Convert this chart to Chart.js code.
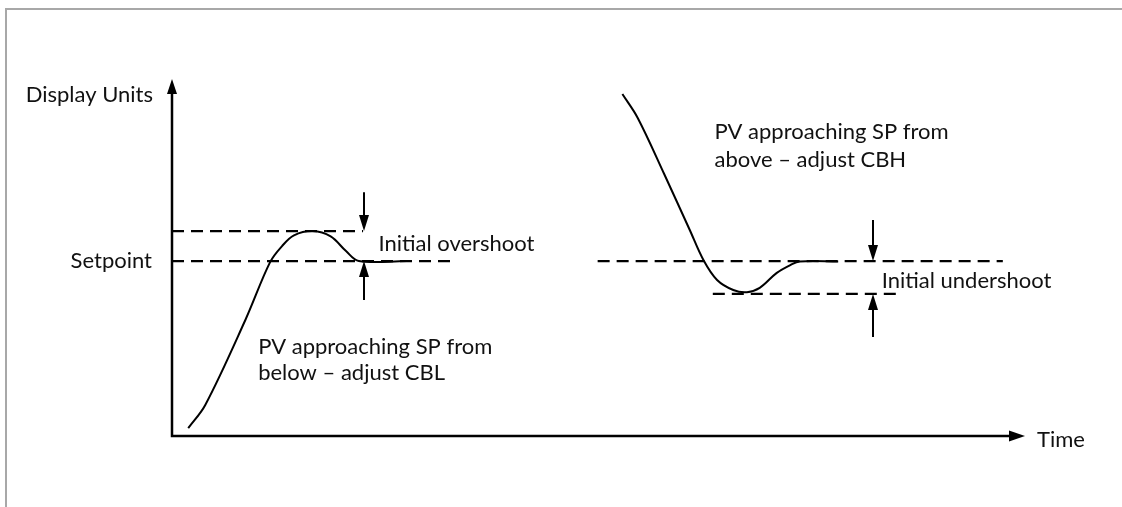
<!DOCTYPE html>
<html>
<head>
<meta charset="utf-8">
<script src="https://cdn.jsdelivr.net/npm/chart.js@4/dist/chart.umd.min.js"></script>
<style>
  html, body { margin: 0; padding: 0; background: #fff; }
  #wrap { position: relative; width: 1122px; height: 507px; overflow: hidden; }
  #frame { position: absolute; left: 5px; top: 8px; right: -4px; bottom: -4px;
           border-top: 2px solid #a8a8a8; border-left: 2px solid #a8a8a8; }
  canvas { position: absolute; left: 0; top: 0; }
</style>
</head>
<body>
<div id="wrap">
  <div id="frame"></div>
  <canvas id="c" width="1122" height="507"></canvas>
</div>
<script>
// Axis ranges (arbitrary time / display units)
const timeRange = [0, 100];
const unitRange = [0, 100];

// Control levels
const setpoint = 49.0;
const overshootLevel = 57.4;
const undershootLevel = 39.8;

// PV rising towards setpoint from below
const pvBelowTime  = [1.9, 3.9, 8.6, 11.5, 12.9, 14.3, 16.5, 18.6, 20.4, 21.9, 27.5];
const pvBelowValue = [2.2, 8.7, 32.5, 48.7, 53.2, 56.2, 57.4, 55.9, 51.8, 49.0, 49.0];

// PV falling towards setpoint from above
const pvAboveTime  = [52.8, 54.6, 57.7, 60.7, 62.3, 63.9, 65.8, 67.4, 68.9, 70.9, 72.5, 73.6, 78.1];
const pvAboveValue = [95.8, 89.1, 73.4, 57.7, 49.3, 43.7, 40.9, 40.3, 41.5, 45.7, 47.9, 48.9, 48.9];

// Reference (dashed) lines: [startTime, endTime]
const setpointLeftSpan   = [0, 32.6];
const overshootSpan      = [0, 22.4];
const setpointRightSpan  = [49.9, 97.4];
const undershootSpan     = [63.4, 85.0];

// Dimension arrows: time position, [from, to]
const overshootArrowTime = 22.5;
const overshootArrowTop = [68.3, overshootLevel];
const overshootArrowBottom = [38.1, setpoint];
const undershootArrowTime = 82.2;
const undershootArrowTop = [60.5, setpoint];
const undershootArrowBottom = [27.7, undershootLevel];

const toPoints = (xs, ys) => xs.map((x, i) => ({ x, y: ys[i] }));
const hLine = (span, level) => [{ x: span[0], y: level }, { x: span[1], y: level }];

const FONT = '22px Lato, "Open Sans", sans-serif';
const INK = '#111';

function arrowHead(ctx, x, y, dir, w, h) {
  // dir: 'up' | 'down' | 'right'; (x, y) is the tip
  ctx.beginPath();
  if (dir === 'up') {
    ctx.moveTo(x, y); ctx.lineTo(x - w / 2, y + h); ctx.lineTo(x + w / 2, y + h);
  } else if (dir === 'down') {
    ctx.moveTo(x, y); ctx.lineTo(x - w / 2, y - h); ctx.lineTo(x + w / 2, y - h);
  } else {
    ctx.moveTo(x, y); ctx.lineTo(x - h, y - w / 2); ctx.lineTo(x - h, y + w / 2);
  }
  ctx.closePath();
  ctx.fill();
}

function vArrow(ctx, xs, ys, t, span) {
  const px = Math.round(xs.getPixelForValue(t));
  const y0 = ys.getPixelForValue(span[0]);
  const y1 = ys.getPixelForValue(span[1]);
  const dir = y1 > y0 ? 'down' : 'up';
  ctx.beginPath();
  ctx.moveTo(px, y0);
  ctx.lineTo(px, dir === 'down' ? y1 - 10 : y1 + 10);
  ctx.stroke();
  arrowHead(ctx, px, y1, dir, 10, 16);
}

const annotate = {
  id: 'annotate',
  afterDatasetsDraw(chart) {
    const { ctx } = chart;
    const xs = chart.scales.x, ys = chart.scales.y;
    const x0 = xs.getPixelForValue(timeRange[0]);
    const x1 = xs.getPixelForValue(timeRange[1]);
    const yBottom = ys.getPixelForValue(unitRange[0]);
    const yTop = ys.getPixelForValue(unitRange[1]);

    ctx.save();
    ctx.strokeStyle = '#000';
    ctx.fillStyle = '#000';

    // axes
    ctx.lineWidth = 2.5;
    ctx.beginPath();
    ctx.moveTo(x0, yTop + 10);
    ctx.lineTo(x0, yBottom);
    ctx.lineTo(x1 - 10, yBottom);
    ctx.stroke();
    arrowHead(ctx, x0, yTop, 'up', 10, 15);
    arrowHead(ctx, x1, yBottom, 'right', 11, 16);

    // dimension arrows
    ctx.lineWidth = 2;
    vArrow(ctx, xs, ys, overshootArrowTime, overshootArrowTop);
    vArrow(ctx, xs, ys, overshootArrowTime, overshootArrowBottom);
    vArrow(ctx, xs, ys, undershootArrowTime, undershootArrowTop);
    vArrow(ctx, xs, ys, undershootArrowTime, undershootArrowBottom);

    // labels
    ctx.font = FONT;
    ctx.fillStyle = INK;
    ctx.textBaseline = 'middle';
    ctx.textAlign = 'right';
    ctx.fillText('Display Units', x0 - 19, yTop + 16);
    ctx.fillText('Setpoint', x0 - 20, ys.getPixelForValue(setpoint));

    ctx.textAlign = 'left';
    ctx.fillText('Time', x1 + 12, yBottom + 4);
    ctx.fillText('Initial overshoot', xs.getPixelForValue(24.2), ys.getPixelForValue(53.8));
    ctx.fillText('Initial undershoot', xs.getPixelForValue(83.2), ys.getPixelForValue(43.4));
    ctx.fillText('PV approaching SP from', xs.getPixelForValue(10.1), ys.getPixelForValue(25.0));
    ctx.fillText('below \u2013 adjust CBL', xs.getPixelForValue(10.1), ys.getPixelForValue(17.6));
    ctx.fillText('PV approaching SP from', xs.getPixelForValue(63.6), ys.getPixelForValue(85.2));
    ctx.fillText('above \u2013 adjust CBH', xs.getPixelForValue(63.6), ys.getPixelForValue(77.3));
    ctx.restore();
  }
};

const dashed = (data) => ({
  data, borderColor: '#000', borderWidth: 2.2, borderDash: [12, 7],
  pointRadius: 0, fill: false, tension: 0
});
const curve = (data) => ({
  data, borderColor: '#000', borderWidth: 2, pointRadius: 0, fill: false,
  tension: 0.35
});

new Chart(document.getElementById('c'), {
  type: 'line',
  data: {
    datasets: [
      dashed(hLine(setpointLeftSpan, setpoint)),
      dashed(hLine(overshootSpan, overshootLevel)),
      dashed(hLine(setpointRightSpan, setpoint)),
      dashed(hLine(undershootSpan, undershootLevel)),
      curve(toPoints(pvBelowTime, pvBelowValue)),
      curve(toPoints(pvAboveTime, pvAboveValue))
    ]
  },
  options: {
    responsive: false,
    animation: false,
    layout: { padding: { left: 172, right: 97, top: 79, bottom: 71 } },
    scales: {
      x: { type: 'linear', min: timeRange[0], max: timeRange[1], display: false },
      y: { type: 'linear', min: unitRange[0], max: unitRange[1], display: false }
    },
    plugins: { legend: { display: false }, tooltip: { enabled: false } }
  },
  plugins: [annotate]
});
</script>
</body>
</html>
